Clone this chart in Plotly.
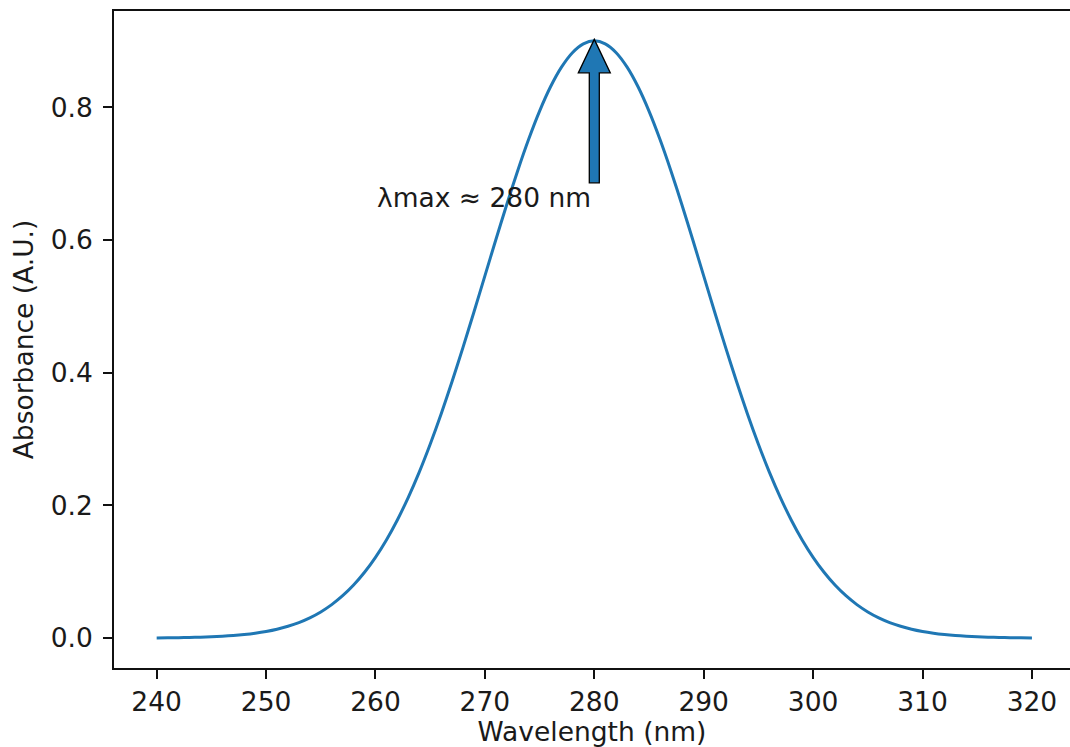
import plotly.graph_objects as go

# Wavelength (nm), 1 nm steps
wavelength = list(range(240, 321))

# Absorbance values (symmetric about the 280 nm peak)
half_right = [0.9000, 0.8955, 0.8822, 0.8604, 0.8308, 0.7942, 0.7517, 0.7044, 0.6535, 0.6003,
              0.5459, 0.4915, 0.4381, 0.3866, 0.3378, 0.2922, 0.2502, 0.2122, 0.1781, 0.1480,
              0.1218, 0.0992, 0.0800, 0.0639, 0.0505, 0.0395, 0.0306, 0.0235, 0.0179, 0.0134,
              0.0100, 0.0074, 0.0054, 0.0039, 0.0028, 0.0020, 0.0014, 0.0010, 0.0007, 0.0004,
              0.0003]
absorbance = half_right[:0:-1] + half_right

peak_wavelength = 280
peak_absorbance = 0.9
annotation_text = "λmax ≈ 280 nm"
annotation_x = 260
annotation_y = 0.664

x_ticks = [240, 250, 260, 270, 280, 290, 300, 310, 320]
y_ticks = [0.0, 0.2, 0.4, 0.6, 0.8]

BLUE = "#1f77b4"
FONT = "DejaVu Sans"
FS = 26.5
TEXT = "#1a1a1a"

fig = go.Figure()
fig.add_trace(go.Scatter(x=wavelength, y=absorbance, mode="lines",
                         line=dict(color=BLUE, width=3, shape="spline", smoothing=0.8),
                         showlegend=False, hoverinfo="skip"))

# Fat annotation arrow (pixel geometry anchored at the peak)
shaft_half = 5
head_half = 16
head_len = 32
shaft_len = 142
arrow_path = (f"M {-shaft_half} {-shaft_len} L {shaft_half} {-shaft_len} "
              f"L {shaft_half} {-head_len} L {head_half} {-head_len} L 0 1.5 "
              f"L {-head_half} {-head_len} L {-shaft_half} {-head_len} Z")
fig.add_shape(type="path", path=arrow_path,
              xref="x", yref="y", xsizemode="pixel", ysizemode="pixel",
              xanchor=peak_wavelength, yanchor=peak_absorbance,
              fillcolor=BLUE, line=dict(color="black", width=1.3), layer="above")

fig.add_annotation(x=annotation_x, y=annotation_y, xref="x", yref="y",
                   text=annotation_text, showarrow=False,
                   xanchor="left", yanchor="middle",
                   font=dict(family=FONT, size=FS, color=TEXT))

axis_common = dict(showgrid=False, zeroline=False, showline=True,
                   linecolor="#111111", linewidth=1.8,
                   ticks="outside", ticklen=9, tickwidth=1.8, tickcolor="#111111",
                   tickfont=dict(family=FONT, size=FS, color=TEXT))

fig.update_layout(
    width=1070, height=747,
    margin=dict(l=114, r=0, t=11, b=79),
    paper_bgcolor="white", plot_bgcolor="white",
    xaxis=dict(range=[236.1, 323.48], tickvals=x_ticks,
               ticktext=[str(v) for v in x_ticks], mirror=True,
               ticklabelstandoff=0,
               title=dict(text="Wavelength (nm)", standoff=1,
                          font=dict(family=FONT, size=FS, color=TEXT)),
               **axis_common),
    yaxis=dict(range=[-0.045, 0.945], tickvals=y_ticks, tickformat=".1f",
               ticklabelstandoff=5,
               title=dict(text="Absorbance (A.U.)", standoff=9,
                          font=dict(family=FONT, size=FS, color=TEXT)),
               **axis_common),
)

fig.write_html("out.html")
